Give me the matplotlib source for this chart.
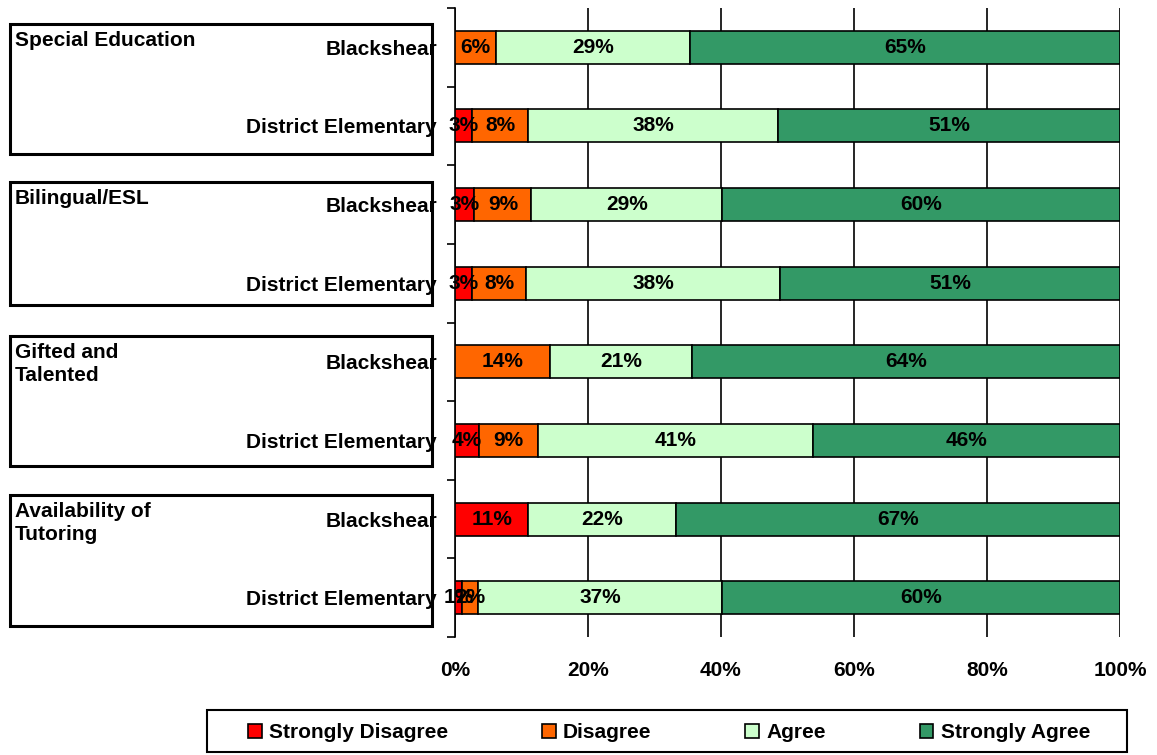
import matplotlib
matplotlib.use('Agg')
from matplotlib import pyplot as plt
from matplotlib.patches import Rectangle

plt.rcParams['font.family'] = ['Liberation Sans', 'DejaVu Sans']
plt.rcParams['font.weight'] = 'bold'

# rows from top to bottom
rows = ['Blackshear', 'District Elementary'] * 4
groups = ['Special Education', 'Bilingual/ESL', 'Gifted and\nTalented', 'Availability of\nTutoring']
series = ['Strongly Disagree', 'Disagree', 'Agree', 'Strongly Agree']
colors = ['#FF0000', '#FF6600', '#CCFFCC', '#339966']

strongly_disagree = [0, 2.6, 2.9, 2.6, 0, 3.6, 11.0, 1.1]
disagree = [6.2, 8.4, 8.6, 8.1, 14.3, 8.9, 0, 2.4]
agree = [29.1, 37.6, 28.7, 38.2, 21.3, 41.3, 22.2, 36.7]
strongly_agree = [64.7, 51.4, 59.8, 51.1, 64.4, 46.2, 66.8, 59.8]
values = [strongly_disagree, disagree, agree, strongly_agree]

FS = 15
W, H = 1157, 755
fig = plt.figure(figsize=(W / 100, H / 100), dpi=100)
ax = fig.add_axes([455 / W, 1 - 637 / H, 665 / W, 629 / H])

ypos = list(range(len(rows)))
left = [0] * len(rows)
for vals, name, col in zip(values, series, colors):
    bars = ax.barh(ypos, vals, left=left, height=0.42, color=col,
                   edgecolor='black', linewidth=1.2, label=name, zorder=3)
    for b, v in zip(bars, vals):
        if v > 0:
            ax.text(b.get_x() + b.get_width() / 2, b.get_y() + b.get_height() / 2,
                    f'{round(v)}%', ha='center', va='center', fontsize=FS,
                    fontweight='bold', zorder=4)
    left = [a + b for a, b in zip(left, vals)]

ax.set_xlim(0, 100)
ax.set_ylim(len(rows) - 0.5, -0.5)
ax.set_xticks([0, 20, 40, 60, 80, 100])
ax.set_xticklabels(['0%', '20%', '40%', '60%', '80%', '100%'], fontsize=FS, fontweight='bold')
ax.tick_params(axis='x', length=0, pad=17)
ax.set_yticks(ypos)
ax.set_yticklabels(rows, fontsize=FS, fontweight='bold')
ax.tick_params(axis='y', which='major', length=0, pad=13)
ax.set_yticks([i - 0.5 for i in range(len(rows) + 1)], minor=True)
ax.tick_params(axis='y', which='minor', length=6, width=1.2, direction='out')
ax.grid(axis='x', color='black', linewidth=1.2, zorder=0)
for s in ['top', 'right', 'bottom']:
    ax.spines[s].set_visible(False)
ax.spines['left'].set_linewidth(1.2)

# group boxes (pixel tops/bottoms)
boxes = [(24, 154), (182, 305), (336, 466), (495, 626)]
for (top, bot), g in zip(boxes, groups):
    fig.patches.append(Rectangle((10 / W, 1 - bot / H), 422 / W, (bot - top) / H,
                                 transform=fig.transFigure, fill=False,
                                 edgecolor='black', linewidth=2.2, zorder=0))
    fig.text(15 / W, 1 - (top + 7) / H, g, ha='left', va='top', fontsize=FS,
             fontweight='bold', linespacing=1.25)

# legend frame and entries
fig.patches.append(Rectangle((207 / W, 1 - 752 / H), 920 / W, 42 / H,
                             transform=fig.transFigure, fill=False,
                             edgecolor='black', linewidth=1.5))
leg = fig.legend(loc='center', bbox_to_anchor=(248 / W, 1 - 754 / H, 842 / W, 42 / H),
                 mode='expand', ncol=4, frameon=False,
                 fontsize=FS, handlelength=0.65, handleheight=0.65, handletextpad=0.35,
                 borderpad=0, borderaxespad=0)
for t in leg.get_texts():
    t.set_fontweight('bold')
for h in leg.legend_handles:
    h.set_linewidth(1.2)

fig.savefig('out.png', dpi=100)
